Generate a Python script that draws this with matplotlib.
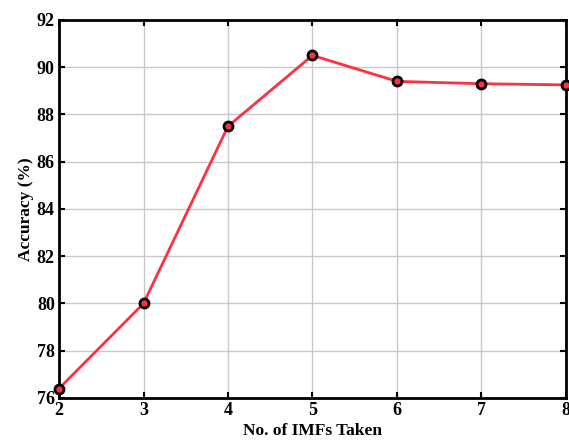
import matplotlib
matplotlib.use("Agg")
import matplotlib.pyplot as plt

imfs = [2, 3, 4, 5, 6, 7, 8]
accuracy = [76.4, 80.0, 87.5, 90.5, 89.4, 89.3, 89.25]

plt.rcParams['font.family'] = ['Liberation Serif', 'DejaVu Serif']
plt.rcParams['font.weight'] = 'bold'

fig = plt.figure(figsize=(5.69, 4.43), dpi=100)
ax = fig.add_axes([0.1037, 0.1016, 0.8910, 0.8534])

ax.plot(imfs, accuracy, color='#ff3040', linewidth=2, marker='o', markersize=6.5,
        markerfacecolor='#ff3040', markeredgecolor='black', markeredgewidth=2, zorder=3, clip_on=False)

ax.set_xlim(2, 8)
ax.set_ylim(76, 92)
ax.set_xticks(imfs)
ax.set_yticks(range(76, 93, 2))
ax.grid(True, color='#c8c8c8', linewidth=1)
ax.set_axisbelow(True)
ax.tick_params(direction='in', top=True, right=True, length=4, width=1.5, labelsize=13, pad=3)
for s in ax.spines.values():
    s.set_linewidth(2)
for lbl in ax.get_xticklabels() + ax.get_yticklabels():
    lbl.set_fontweight('bold')

ax.set_xlabel('No. of IMFs Taken', fontsize=12.5, fontweight='bold', labelpad=3)
ax.set_ylabel('Accuracy (%)', fontsize=12.5, fontweight='bold', labelpad=2)

fig.savefig('out.png', dpi=100)
